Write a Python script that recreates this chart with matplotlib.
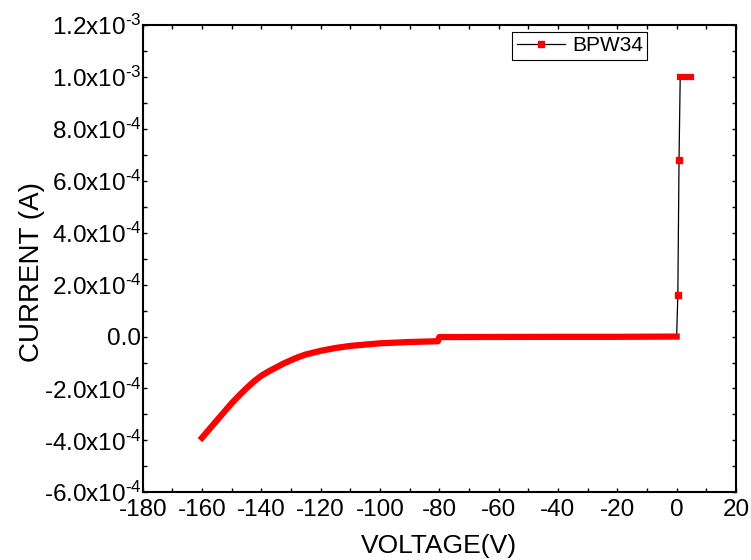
import numpy as np
import matplotlib.pyplot as plt
from matplotlib.lines import Line2D
from matplotlib.ticker import MultipleLocator, FuncFormatter

plt.rcParams['font.family'] = ['Liberation Sans', 'DejaVu Sans']
plt.rcParams['mathtext.fontset'] = 'custom'
plt.rcParams['mathtext.rm'] = 'Liberation Sans'
plt.rcParams['axes.unicode_minus'] = False

# I-V sweep of the BPW34 photodiode (reverse bias up to -160 V, forward to compliance)
sweep_v = [-160, -155, -150, -147.5, -145, -142.5, -140, -137.5, -135,
           -132.5, -130, -127.5, -125, -120, -115, -110, -100, -90,
           -80.5, -80, -60, -40, -20, 0]
sweep_i = [-3.90e-4, -3.23e-4, -2.57e-4, -2.27e-4, -1.99e-4, -1.73e-4,
           -1.51e-4, -1.34e-4, -1.19e-4, -1.04e-4, -0.91e-4, -0.79e-4,
           -0.69e-4, -0.55e-4, -0.44e-4, -0.36e-4, -0.26e-4, -0.21e-4,
           -0.18e-4, -0.02e-4, -0.015e-4, -0.01e-4, -0.01e-4, 0.0]
fwd_v = [0.4, 0.8]
fwd_i = [1.6e-4, 6.8e-4]
comp_v = [1.2, 2.0, 3.0, 4.0, 5.0]
comp_i = [1.0e-3, 1.0e-3, 1.0e-3, 1.0e-3, 1.0e-3]

all_v = sweep_v + fwd_v + comp_v
all_i = sweep_i + fwd_i + comp_i

fig = plt.figure(figsize=(7.51, 5.60), dpi=100)
ax = fig.add_axes([0.190, 0.121, 0.790, 0.834])

# thin black connecting line
ax.plot(all_v, all_i, '-', color='black', lw=0.9, zorder=2)
# densely sampled parts show up as a solid red band
ax.plot(sweep_v, sweep_i, '-', color='red', lw=4.5, solid_capstyle='projecting',
        solid_joinstyle='round', zorder=3)
ax.plot(comp_v, comp_i, '-', color='red', lw=4.5, solid_capstyle='projecting', zorder=3)
# the few points on the steep forward rise
ax.plot(fwd_v, fwd_i, 's', ms=4, mfc='red', mec='red', zorder=3)

ax.set_xlim(-180, 20)
ax.set_ylim(-6e-4, 1.2e-3)
ax.xaxis.set_major_locator(MultipleLocator(20))
ax.xaxis.set_minor_locator(MultipleLocator(10))
ax.yaxis.set_major_locator(MultipleLocator(2e-4))
ax.yaxis.set_minor_locator(MultipleLocator(1e-4))


def sci_label(val, pos):
    if abs(val) < 1e-12:
        return '0.0'
    exp = int(np.floor(np.log10(abs(val)) + 1e-9))
    mant = val / 10 ** exp
    txt = r'$\mathregular{%.1fx10^{%d}}$' % (mant, exp)
    return txt.replace('-', '\u2010')


ax.yaxis.set_major_formatter(FuncFormatter(sci_label))

ax.tick_params(which='both', direction='in', top=True, right=True,
               length=3, width=1, labelsize=17.5)
ax.tick_params(axis='x', pad=5)
ax.tick_params(axis='y', pad=1)
for s in ax.spines.values():
    s.set_linewidth(1.5)

ax.set_xlabel('VOLTAGE(V)', fontsize=19, labelpad=9)
ax.set_ylabel('CURRENT (A)', fontsize=20)
ax.yaxis.set_label_coords(-0.165, 0.471)

handle = Line2D([], [], color='black', lw=0.9, marker='s', ms=4,
                mfc='red', mec='red')
leg = ax.legend([handle], ['BPW34'], loc='upper right',
                bbox_to_anchor=(0.850, 0.985), fontsize=15,
                handlelength=2.3, handletextpad=0.35, borderpad=0.2,
                borderaxespad=0, fancybox=False, framealpha=1)
leg.get_frame().set_edgecolor('black')
leg.get_frame().set_linewidth(0.8)

plt.savefig('out.png', dpi=100)
